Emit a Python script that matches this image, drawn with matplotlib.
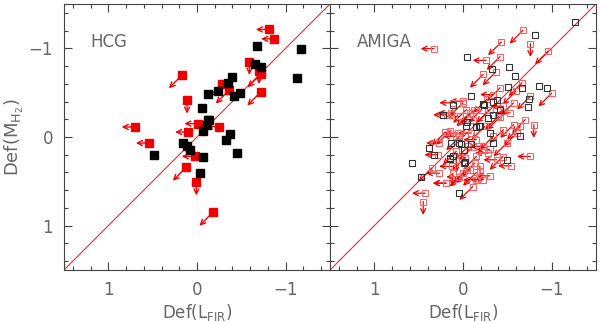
import matplotlib
matplotlib.use("Agg")
import matplotlib.pyplot as plt
from matplotlib.ticker import MultipleLocator

# ---------------- data ----------------
# HCG detections (filled black squares)
hcg_det_x = [0.487, 0.16, 0.115, 0.078, -0.071, -0.033, -0.056, -0.119, -0.126, -0.108,
             -0.071, -0.242, -0.353, -0.39, -0.323, -0.372, -0.42, -0.48, -0.454, -0.677,
             -0.658, -0.725, -1.123, -1.171, -0.138]
hcg_det_y = [0.203, 0.068, 0.105, 0.15, 0.222, 0.41, -0.328, -0.486, -0.188, -0.139,
             -0.072, -0.524, -0.61, -0.68, 0.03, -0.038, -0.467, -0.497, 0.18, -1.024,
             -0.825, -0.787, -0.663, -0.987, -0.196]
# HCG upper limits (filled red squares with arrows)
hcg_lim_x = [-0.814, -0.874, -0.591, -0.70, -0.72, -0.717, 0.167, 0.112, -0.283, -0.361,
             -0.007, 0.097, -0.249, 0.699, 0.539, 0.022, 0.123, 0.007, -0.178]
hcg_lim_y = [-1.213, -1.107, -0.851, -0.747, -0.71, -0.505, -0.70, -0.414, -0.603, -0.527,
             -0.151, -0.056, -0.117, -0.113, 0.068, 0.218, 0.343, 0.508, 0.851]
hcg_lim_dir = ["L", "L", "D", "D", "DL", "DL", "DL", "D", "DL", "DL",
               "L", "L", "L", "L", "L", "L", "DL", "D", "DL"]

# AMIGA detections (open black squares)
amiga_det_x = [-1.266, -0.817, -0.049, -0.331, -0.521, -0.589, -0.856, -0.943, -0.513, -0.669,
               -0.741, -0.73, -0.095, 0.114, 0.22, -0.24, -0.38, -0.342, -0.183, -0.152,
               -0.038, 0.019, -0.008, -0.095, -0.342, 0.388, 0.323, 0.578, 0.471, 0.152,
               0.114, -0.011, -0.494, 0.049, -0.646, -0.285, 0.133, -0.418,
               0.23, -0.05, -0.19, -0.30, 0.04, 0.15, -0.02, -0.34, -0.22]
amiga_det_y = [-1.298, -1.151, -0.902, -0.762, -0.789, -0.687, -0.574, -0.551, -0.566, -0.555,
               -0.434, -0.34, -0.46, -0.362, -0.245, -0.362, -0.42, -0.253, -0.121, -0.109,
               -0.121, 0.079, 0.151, 0.075, 0.068, 0.125, 0.204, 0.294, 0.453, 0.245,
               0.219, 0.294, 0.257, 0.626, -0.008, -0.215, 0.068, -0.309,
               -0.25, -0.17, -0.12, -0.05, 0.07, 0.24, 0.28, -0.40, -0.37]
# AMIGA upper limits (open red squares with arrows)
amiga_lim_x = [-0.677, -0.76, -0.962, -0.433, -0.418, -0.259, -0.228, 0.327, -0.369, -0.665,
               -1.0, -0.418, 0.0, -0.125, 0.198, -0.57, -0.798, -0.703, -0.57, -0.532,
               -0.76, -0.544, -0.38, -0.304, -0.19, -0.152, 0.057, 0.076, -0.038, -0.057,
               0.266, 0.19, 0.426, 0.449, 0.285, 0.35, 0.114, 0.0, -0.152, -0.076,
               -0.247, -0.456, -0.608, -0.646, -0.342, -0.494, 0.133, 0.038, -0.114, -0.209,
               -0.456, -0.152, -0.228, -0.285, 0.076, -0.133, -0.019, 0.152, -0.76, -0.597,
               -0.342, -0.266, 0.266, 0.076, -0.095, -0.399,
               0.117, 0.0, 0.186, -0.076, -0.30, -0.42, 0.04, -0.11, -0.30, -0.45,
               0.12, -0.04, -0.15, 0.04, -0.23, 0.19, -0.11, -0.19]
amiga_lim_y = [-1.204, -1.053, -0.97, -1.072, -0.906, -0.864, -0.706, -0.996, -0.732, -0.611,
               -0.494, -0.555, -0.404, -0.302, -0.057, -0.385, -0.14, -0.196, -0.14, -0.272,
               0.219, 0.325, 0.257, 0.438, 0.389, 0.219, -0.045, -0.008, -0.309, 0.106,
               0.408, 0.521, 0.634, 0.728, 0.2, 0.351, 0.408, 0.408, 0.483, 0.37,
               -0.121, -0.083, -0.045, -0.121, -0.008, 0.068, -0.272, -0.234, -0.196, -0.309,
               -0.347, 0.03, 0.106, 0.181, 0.162, 0.294, 0.238, -0.064, -0.46, -0.517,
               -0.479, -0.423, 0.068, 0.257, -0.045, -0.234,
               -0.386, -0.386, -0.25, -0.27, -0.31, -0.23, 0.0, 0.11, 0.14, 0.22,
               0.33, 0.37, 0.40, 0.45, 0.48, 0.52, 0.56, 0.33]
amiga_lim_dir = ["DL", "D", "DL", "DL", "DL", "L", "DL", "L", "DL", "DL",
                 "DL", "DL", "L", "DL", "DL", "DL", "D", "DL", "DL", "L",
                 "L", "L", "L", "L", "D", "DL", "L", "L", "DL", "DL",
                 "L", "L", "L", "D", "L", "DL", "D", "DL", "L", "DL",
                 "DL", "DL", "DL", "DL", "DL", "DL", "L", "L", "L", "DL",
                 "L", "L", "L", "L", "DL", "DL", "DL", "DL", "DL", "DL",
                 "L", "DL", "L", "D", "L", "DL",
                 "L", "DL", "L", "DL", "DL", "DL", "DL", "DL", "L", "DL",
                 "L", "DL", "DL", "L", "L", "L", "DL", "D"]

panel_names = ["HCG", "AMIGA"]
tick_vals = [1, 0, -1]
tick_labels = ["1", "0", "\u22121"]

# ---------------- style ----------------
txt_col = "#666666"
red = "#ee0000"
arrow_len = 0.15
step = {"L": (1, 0), "D": (0, 1), "DL": (1, 1)}

fig = plt.figure(figsize=(6.0, 3.23), dpi=100)
ax1 = fig.add_axes([64 / 600, 53 / 323, 266 / 600, 266 / 323])
ax2 = fig.add_axes([330 / 600, 53 / 323, 266 / 600, 266 / 323])


def draw_arrows(ax, xs, ys, dirs, lw=0.9):
    for x, y, d in zip(xs, ys, dirs):
        sx, sy = step[d]
        ax.annotate("", xy=(x + sx * arrow_len, y + sy * arrow_len), xytext=(x, y),
                    arrowprops=dict(arrowstyle="->", color=red, lw=lw,
                                    mutation_scale=9, shrinkA=0, shrinkB=0),
                    zorder=2)


for ax, name in zip([ax1, ax2], panel_names):
    ax.set_xlim(1.5, -1.5)
    ax.set_ylim(1.5, -1.5)
    ax.plot([-1.5, 1.5], [-1.5, 1.5], color="#e03030", lw=0.8, zorder=1)
    ax.xaxis.set_major_locator(MultipleLocator(1))
    ax.yaxis.set_major_locator(MultipleLocator(1))
    ax.xaxis.set_minor_locator(MultipleLocator(0.2))
    ax.yaxis.set_minor_locator(MultipleLocator(0.2))
    ax.tick_params(which="both", direction="in", top=True, right=True,
                   color="#444444", labelcolor=txt_col, labelsize=12, width=0.8)
    ax.tick_params(which="major", length=6, pad=8)
    ax.tick_params(which="minor", length=3)
    ax.set_xticks(tick_vals)
    ax.set_xticklabels(tick_labels)
    for s in ax.spines.values():
        s.set_color("#444444")
        s.set_linewidth(0.8)
    ax.text(0.1, 0.84, name, transform=ax.transAxes, fontsize=12, color=txt_col)
    ax.set_xlabel("Def(L$_{\\rm FIR}$)", fontsize=12, color=txt_col, labelpad=2)

ax1.set_yticks(tick_vals)
ax1.set_yticklabels(tick_labels)
ax1.set_ylabel("Def(M$_{\\rm H_2}$)", fontsize=13, color=txt_col, labelpad=2)
ax2.set_yticks(tick_vals)
ax2.set_yticklabels([])

# HCG panel
draw_arrows(ax1, hcg_lim_x, hcg_lim_y, hcg_lim_dir, lw=1.0)
ax1.plot(hcg_lim_x, hcg_lim_y, ls="none", marker="s", ms=5.5, mfc=red, mec=red, zorder=3)
ax1.plot(hcg_det_x, hcg_det_y, ls="none", marker="s", ms=5.5, mfc="black", mec="black", zorder=4)

# AMIGA panel
draw_arrows(ax2, amiga_lim_x, amiga_lim_y, amiga_lim_dir, lw=0.9)
ax2.plot(amiga_lim_x, amiga_lim_y, ls="none", marker="s", ms=5, mfc="none",
         mec="#ee6666", mew=0.8, zorder=3)
ax2.plot(amiga_det_x, amiga_det_y, ls="none", marker="s", ms=5, mfc="none",
         mec="#333333", mew=0.8, zorder=4)

fig.savefig("out.png", dpi=100)
